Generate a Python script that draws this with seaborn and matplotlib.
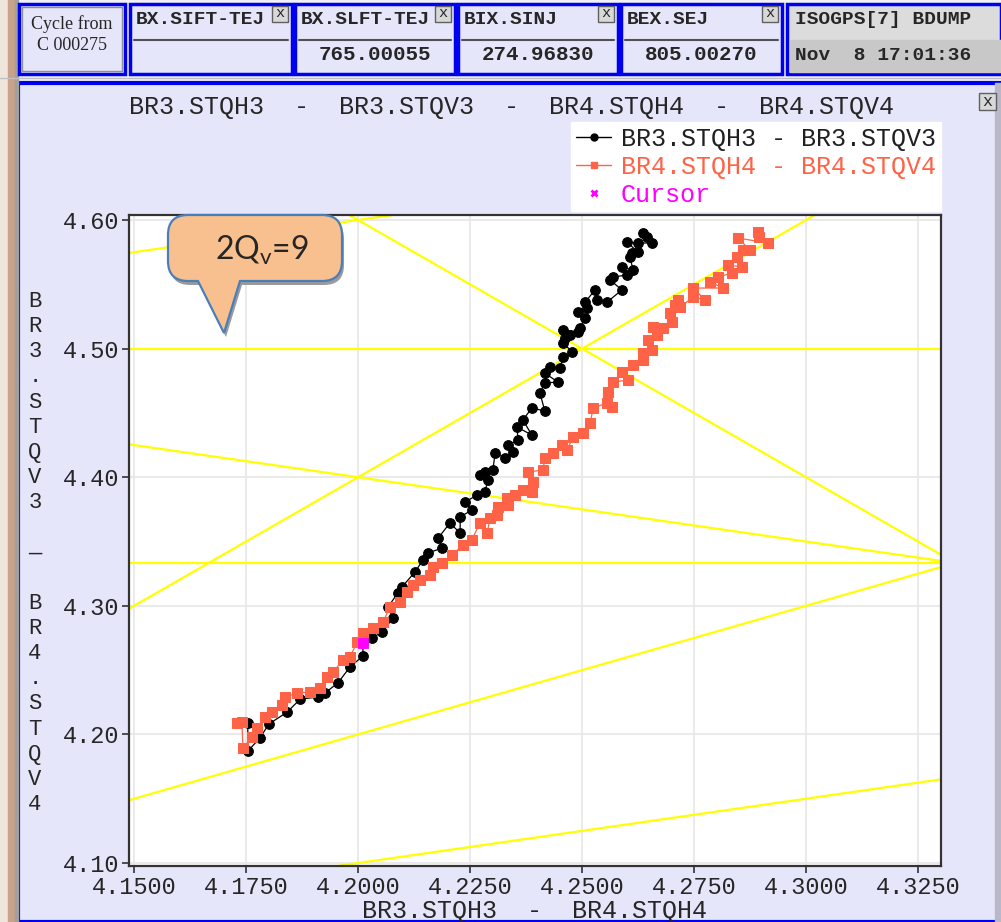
import numpy as np
import pandas as pd
import matplotlib
matplotlib.use("Agg")
import matplotlib.pyplot as plt
import seaborn as sns
from matplotlib.patches import Rectangle, PathPatch
from matplotlib.path import Path
from matplotlib.lines import Line2D

# tune scan BR3 (Qh, Qv)
br3_qh = [4.1754, 4.1754, 4.1781, 4.1801, 4.1842, 4.1871, 4.1911, 4.1926, 4.1955, 4.1982,
          4.2011, 4.2011, 4.2031, 4.2054, 4.2078, 4.2067, 4.2089, 4.2098, 4.2127, 4.2145,
          4.2156, 4.2188, 4.2179, 4.2205, 4.2228, 4.2228, 4.2254, 4.2239, 4.2266, 4.2283,
          4.2290, 4.2272, 4.2283, 4.2301, 4.2306, 4.2328, 4.2346, 4.2335, 4.2357, 4.2355,
          4.2388, 4.2368, 4.2388, 4.2417, 4.2406, 4.2417, 4.2446, 4.2417, 4.2429, 4.2451,
          4.2458, 4.2478, 4.2458, 4.2462, 4.2473, 4.2458, 4.2491, 4.2496, 4.2507, 4.2491,
          4.2511, 4.2507, 4.2529, 4.2533, 4.2556, 4.2589, 4.2563, 4.2569, 4.2600, 4.2589,
          4.2614, 4.2607, 4.2612, 4.2625, 4.2600, 4.2625, 4.2656, 4.2636, 4.2645]
br3_qv = [4.2089, 4.1871, 4.1972, 4.2081, 4.2174, 4.2275, 4.2291, 4.2322, 4.2400, 4.2524,
          4.2610, 4.2718, 4.2750, 4.2796, 4.2905, 4.2991, 4.3100, 4.3146, 4.3263, 4.3356,
          4.3411, 4.3449, 4.3527, 4.3644, 4.3566, 4.3691, 4.3745, 4.3807, 4.3862, 4.3885,
          4.3978, 4.4017, 4.4040, 4.4056, 4.4188, 4.4149, 4.4196, 4.4250, 4.4289, 4.4390,
          4.4328, 4.4445, 4.4538, 4.4515, 4.4655, 4.4733, 4.4740, 4.4810, 4.4857, 4.4849,
          4.4935, 4.4974, 4.5044, 4.5082, 4.5106, 4.5145, 4.5129, 4.5160, 4.5238, 4.5285,
          4.5316, 4.5362, 4.5456, 4.5378, 4.5362, 4.5456, 4.5533, 4.5557, 4.5572, 4.5635,
          4.5611, 4.5712, 4.5743, 4.5751, 4.5829, 4.5821, 4.5821, 4.5899, 4.5868]

# tune scan BR4 (Qh, Qv)
br4_qh = [4.1730, 4.1741, 4.1743, 4.1763, 4.1775, 4.1792, 4.1808, 4.1830, 4.1837, 4.1864,
          4.1893, 4.1915, 4.1931, 4.1944, 4.1967, 4.1982, 4.1998, 4.2011, 4.2033, 4.2056,
          4.2071, 4.2094, 4.2109, 4.2123, 4.2138, 4.2161, 4.2167, 4.2188, 4.2210, 4.2234,
          4.2254, 4.2272, 4.2288, 4.2295, 4.2310, 4.2313, 4.2335, 4.2333, 4.2350, 4.2368,
          4.2388, 4.2391, 4.2379, 4.2413, 4.2417, 4.2435, 4.2455, 4.2467, 4.2480, 4.2502,
          4.2518, 4.2525, 4.2556, 4.2567, 4.2558, 4.2569, 4.2603, 4.2589, 4.2614, 4.2636,
          4.2636, 4.2656, 4.2647, 4.2667, 4.2658, 4.2681, 4.2701, 4.2696, 4.2708, 4.2714,
          4.2719, 4.2748, 4.2775, 4.2748, 4.2815, 4.2786, 4.2804, 4.2835, 4.2826, 4.2857,
          4.2846, 4.2859, 4.2875, 4.2848, 4.2915, 4.2893, 4.2895]
br4_qv = [4.2089, 4.2096, 4.1894, 4.1980, 4.2050, 4.2135, 4.2174, 4.2229, 4.2291, 4.2322,
          4.2330, 4.2361, 4.2446, 4.2485, 4.2579, 4.2602, 4.2718, 4.2788, 4.2827, 4.2874,
          4.2991, 4.3030, 4.3107, 4.3162, 4.3201, 4.3240, 4.3302, 4.3333, 4.3395, 4.3473,
          4.3512, 4.3644, 4.3566, 4.3683, 4.3706, 4.3768, 4.3784, 4.3838, 4.3862, 4.3901,
          4.3885, 4.3963, 4.4040, 4.4056, 4.4149, 4.4188, 4.4250, 4.4212, 4.4313, 4.4344,
          4.4421, 4.4538, 4.4577, 4.4546, 4.4663, 4.4740, 4.4756, 4.4818, 4.4872, 4.4911,
          4.4966, 4.4989, 4.5067, 4.5106, 4.5168, 4.5160, 4.5207, 4.5277, 4.5339, 4.5378,
          4.5323, 4.5401, 4.5378, 4.5471, 4.5471, 4.5518, 4.5557, 4.5588, 4.5650, 4.5635,
          4.5712, 4.5767, 4.5767, 4.5860, 4.5821, 4.5907, 4.5868]

cursor_qh = [4.2011]
cursor_qv = [4.2711]

# resonance lines a*Qh + b*Qv = c
res_a = [0, 0, 2, 2, 1, 1, -1, -1]
res_b = [2, 3, 1, -1, 2, -1, 2, 2]
res_c = [9, 13, 13, 4, 13, 0, 4, 5]

x_ticks = [4.15, 4.175, 4.2, 4.225, 4.25, 4.275, 4.3, 4.325]
y_ticks = [4.10, 4.20, 4.30, 4.40, 4.50, 4.60]

header_names = ["BX.SIFT-TEJ", "BX.SLFT-TEJ", "BIX.SINJ", "BEX.SEJ"]
header_values = ["", "765.00055", "274.96830", "805.00270"]

sns.set_style("white")
plt.rcParams['font.family'] = ['Liberation Mono', 'DejaVu Sans']

W, H = 1001, 922
fig = plt.figure(figsize=(W / 100, H / 100), dpi=100)
lav = '#E6E6FA'
blue = '#0000F0'

# --- window chrome (pixel coords) ---
bg = fig.add_axes([0, 0, 1, 1], zorder=0)
bg.set_xlim(0, W)
bg.set_ylim(H, 0)
bg.axis('off')
bg.add_patch(Rectangle((0, 0), W, H, color='#F2F2F2'))
bg.add_patch(Rectangle((18, 83), W - 18, H - 83, facecolor=lav, edgecolor=blue, lw=3))
bg.add_patch(Rectangle((995, 83), 6, H - 83, color='#B8B8C8'))
bg.add_patch(Rectangle((0, 0), 8, H, color='#EFE5DC'))
bg.add_patch(Rectangle((8, 0), 7, H, color='#C8A28A'))
bg.add_patch(Rectangle((15, 0), 3, H, color='#A0A0A0'))
bg.plot([0, W], [78, 78], color='#C0C0C0', lw=1)

# top boxes
box_x = [(130, 292), (295, 455), (458, 618), (621, 782)]
bg.add_patch(Rectangle((19, 4), 106, 70, facecolor=lav, edgecolor=blue, lw=2.5))
bg.add_patch(Rectangle((22, 7), 100, 64, facecolor='none', edgecolor='#909090', lw=1))
bg.text(72, 24, "Cycle from", family='Liberation Serif', fontsize=13, ha='center', va='center')
bg.text(72, 45, "C 000275", family='Liberation Serif', fontsize=13, ha='center', va='center')
for (x0, x1), name, val in zip(box_x, header_names, header_values):
    bg.add_patch(Rectangle((x0, 4), x1 - x0, 70, facecolor=lav, edgecolor=blue, lw=2.5))
    bg.plot([x0 + 4, x1 - 4], [40, 40], color='#505050', lw=1.5)
    bg.text(x0 + 6, 19, name, fontsize=14, weight='bold', ha='left', va='center')
    bg.add_patch(Rectangle((x1 - 20, 6), 16, 16, facecolor='#D8D8D8', edgecolor='#606060', lw=1,
                           zorder=3))
    bg.text(x1 - 12, 13, "x", fontsize=11, ha='center', va='center', zorder=4)
    bg.text((x0 + x1) / 2, 55, val, fontsize=15, weight='bold', ha='center', va='center')
bg.add_patch(Rectangle((787, 4), W - 787, 70, facecolor='#DCDCDC', edgecolor=blue, lw=2.5))
bg.add_patch(Rectangle((790, 40), W - 790, 32, color='#C8C8C8'))
bg.text(795, 20, "ISOGPS[7] BDUMP", fontsize=14, weight='bold', ha='left', va='center')
bg.text(795, 56, "Nov  8 17:01:36", fontsize=14, weight='bold', ha='left', va='center')
bg.add_patch(Rectangle((979, 93), 17, 17, facecolor='#D8D8D8', edgecolor='#606060', lw=1))
bg.text(987.5, 101, "x", fontsize=12, ha='center', va='center')

# --- main plot ---
ax = fig.add_axes([129 / W, 1 - 866 / H, 812 / W, 651 / H], zorder=2)
ax.set_facecolor('white')

for a, b, c in zip(res_a, res_b, res_c):
    ax.axline((4.25, (c - a * 4.25) / b), slope=-a / b, color='#FFFF00', lw=1.6, zorder=1)

sns.lineplot(x=br3_qh, y=br3_qv, sort=False, estimator=None, color='black', lw=0.9,
             marker='o', markersize=7, markeredgecolor='black', ax=ax, zorder=3)
sns.lineplot(x=br4_qh, y=br4_qv, sort=False, estimator=None, color='#FF6347', lw=0.9,
             marker='s', markersize=7.5, markeredgecolor='#FF6347', ax=ax, zorder=4)
sns.scatterplot(x=cursor_qh, y=cursor_qv, marker='s', s=60, color='#FF00FF',
                edgecolor='#FF00FF', ax=ax, zorder=5)

ax.set_xlim(4.14888, 4.33013)
ax.set_ylim(4.0977, 4.6039)
ax.set_xticks(x_ticks)
ax.set_xticklabels([f"{v:.4f}" for v in x_ticks])
ax.set_yticks(y_ticks)
ax.set_yticklabels([f"{v:.2f}" for v in y_ticks])
ax.grid(True, color='#E8E8E8', lw=1.3)
ax.set_axisbelow(True)
ax.tick_params(direction='out', length=5, width=1.2, color='#333333', labelsize=17, pad=2,
               bottom=True, left=True)
for s in ax.spines.values():
    s.set_color('#333333')
    s.set_linewidth(1.6)
ax.set_xlabel("BR3.STQH3  -  BR4.STQH4", fontsize=18, labelpad=0)
ax.set_ylabel("")

fig.text(511 / W, 1 - 107 / H, "BR3.STQH3  -  BR3.STQV3  -  BR4.STQH4  -  BR4.STQV4",
         fontsize=18, ha='center', va='center')
fig.text(35 / W, 1 - 553 / H, "\n".join(list("BR3.STQV3") + ["", "\u2014", ""] + list("BR4.STQV4")),
         fontsize=16, ha='center', va='center', linespacing=1.26)

handles = [Line2D([], [], color='black', lw=1, marker='o', markersize=5),
           Line2D([], [], color='#FF6347', lw=1, marker='s', markersize=5),
           Line2D([], [], color='#FF00FF', lw=0, marker='x', markersize=4, markeredgewidth=2)]
fig.legend(handles, ["BR3.STQH3 - BR3.STQV3", "BR4.STQH4 - BR4.STQV4", "Cursor"],
           loc='upper right', bbox_to_anchor=(941 / W, 1 - 122 / H), frameon=True,
           facecolor='white', edgecolor='white', fancybox=False, framealpha=1,
           prop={'family': 'Liberation Mono', 'size': 18},
           labelcolor=['#202020', '#FF6347', '#FF00FF'], handlelength=1.4,
           handletextpad=0.4, labelspacing=0.15, borderpad=0.2, borderaxespad=0)

# --- callout ---
ov = fig.add_axes([0, 0, 1, 1], zorder=6)
ov.set_xlim(0, W)
ov.set_ylim(H, 0)
ov.axis('off')
ov.patch.set_alpha(0)
x0, x1, y0, y1, r = 168, 342, 215, 281, 20
verts = [(x0 + r, y0), (x1 - r, y0), (x1, y0), (x1, y0 + r), (x1, y1 - r), (x1, y1), (x1 - r, y1),
         (240, y1), (224, 333), (198, y1), (x0 + r, y1), (x0, y1), (x0, y1 - r), (x0, y0 + r),
         (x0, y0), (x0 + r, y0), (x0 + r, y0)]
codes = [Path.MOVETO, Path.LINETO, Path.CURVE3, Path.CURVE3, Path.LINETO, Path.CURVE3, Path.CURVE3,
         Path.LINETO, Path.LINETO, Path.LINETO, Path.LINETO, Path.CURVE3, Path.CURVE3, Path.LINETO,
         Path.CURVE3, Path.CURVE3, Path.CLOSEPOLY]
shadow = [(vx + 2, vy + 4) for vx, vy in verts]
ov.add_patch(PathPatch(Path(shadow, codes), facecolor='#9A9A9A', edgecolor='none'))
ov.add_patch(PathPatch(Path(verts, codes), facecolor='#F9C08F', edgecolor='#4A7EBB', lw=1.6))
ov.text(262, 250, r"2Q$_\mathregular{v}$=9", family='Lato', fontsize=23, ha='center', va='center')

fig.savefig("out.png", dpi=100)
